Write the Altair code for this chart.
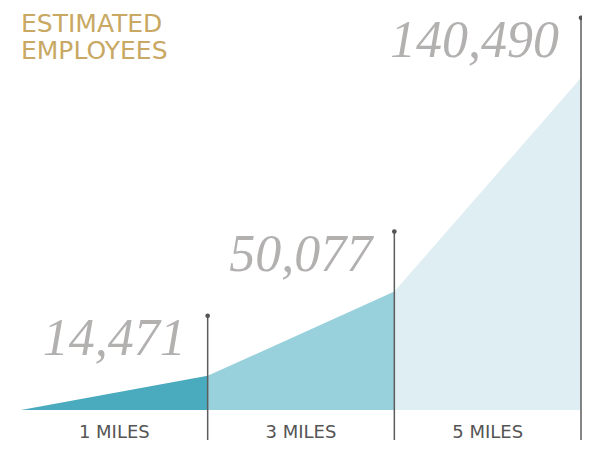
import altair as alt
import pandas as pd

# data
distances = ["1 MILES", "3 MILES", "5 MILES"]
employees = [14471, 50077, 140490]
value_labels = ["14,471", "50,077", "140,490"]
seg_colors = ["#4aabbe", "#98d1dc", "#dfeef2"]

rows = []
prev = 0
for i, (d, v) in enumerate(zip(distances, employees)):
    rows.append({"seg": d, "pos": i, "val": prev})
    rows.append({"seg": d, "pos": i + 1, "val": v})
    prev = v
area_df = pd.DataFrame(rows)

pts = pd.DataFrame({
    "dist": distances,
    "pos": [i + 1 for i in range(len(distances))],
    "mid": [i + 0.5 for i in range(len(distances))],
    "val": employees,
    "label": value_labels,
})

xs = alt.Scale(domain=[0, 3], nice=False, zero=False)
ys = alt.Scale(domain=[0, 170000], nice=False)

area = alt.Chart(area_df).mark_area(interpolate="linear", opacity=1).encode(
    x=alt.X("pos:Q", scale=xs, axis=None),
    y=alt.Y("val:Q", scale=ys, axis=None, stack=None),
    color=alt.Color("seg:N", scale=alt.Scale(domain=distances, range=seg_colors), legend=None),
    detail="seg:N",
)

base = alt.Chart(pts)

rules = base.mark_rule(color="#5c5c5c", strokeWidth=1.5, yOffset=-60, y2Offset=30).encode(
    x=alt.X("pos:Q", scale=xs, axis=None),
    y=alt.Y("val:Q", scale=ys, axis=None),
    y2=alt.datum(0),
)

dots = base.mark_circle(color="#555555", size=22, opacity=1, yOffset=-60).encode(
    x=alt.X("pos:Q", scale=xs, axis=None),
    y=alt.Y("val:Q", scale=ys, axis=None),
)

nums = base.mark_text(
    font="Liberation Serif", fontStyle="italic", fontSize=52, color="#b3b0b0",
    align="right", baseline="alphabetic", dx=-22, dy=-21,
).encode(
    x=alt.X("pos:Q", scale=xs, axis=None),
    y=alt.Y("val:Q", scale=ys, axis=None),
    text="label:N",
)

miles = base.mark_text(
    font="DejaVu Sans", fontSize=18, color="#555555",
    align="center", baseline="alphabetic", dy=28,
).encode(
    x=alt.X("mid:Q", scale=xs, axis=None),
    y=alt.datum(0),
    text="dist:N",
)

chart = alt.layer(area, rules, dots, nums, miles).properties(
    width=560,
    height=402,
    padding={"left": 13, "top": 0, "right": 1, "bottom": 33},
    autosize="none",
    title=alt.Title(
        ["ESTIMATED", "EMPLOYEES"],
        anchor="start", frame="group", orient="top",
        font="DejaVu Sans", fontSize=25, fontWeight="normal",
        color="#c8a862", lineHeight=27, baseline="bottom", offset=0, dy=81,
    ),
).configure_view(stroke=None)

chart.save("out.html", embed_options={"renderer": "svg", "actions": False})
